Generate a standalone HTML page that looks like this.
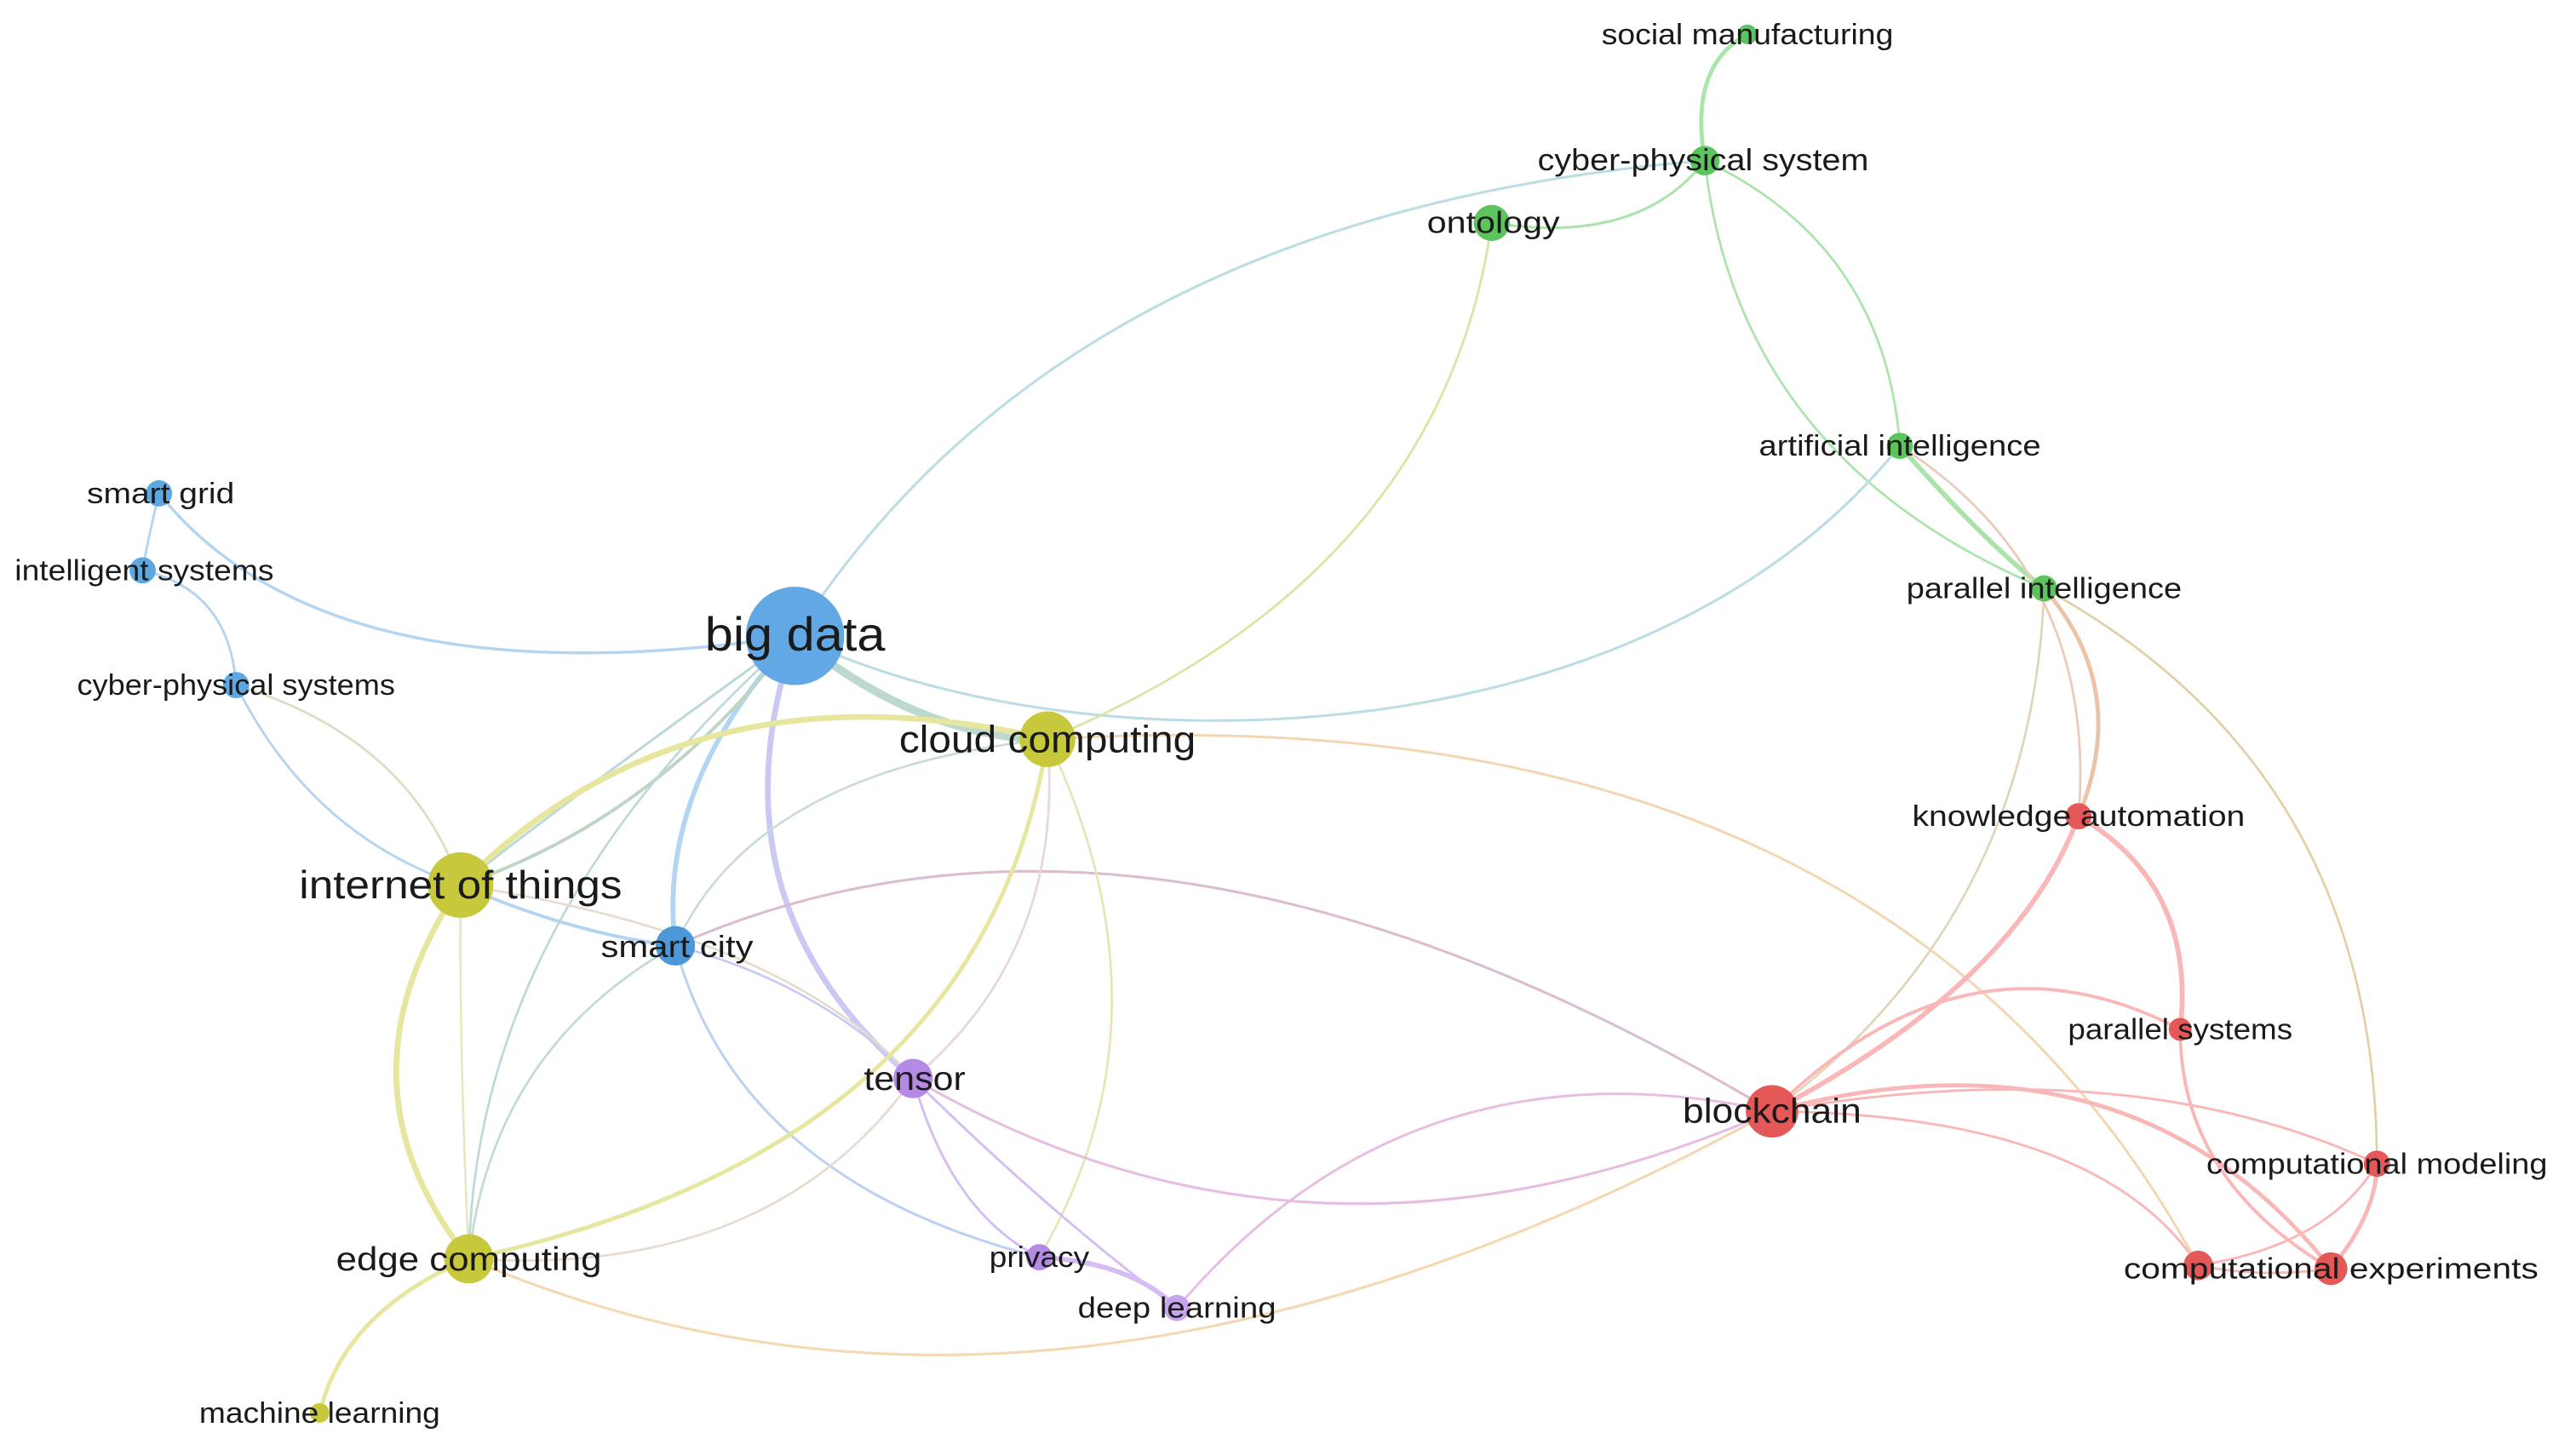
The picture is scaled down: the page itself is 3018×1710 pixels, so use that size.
<!DOCTYPE html>
<html><head><meta charset="utf-8"><style>
html,body{margin:0;padding:0;background:#fff;}
svg{display:block;}
text{font-family:"Liberation Sans","DejaVu Sans",sans-serif;fill:#1a1a1a;}
</style></head><body>
<svg width="3018" height="1710" viewBox="0 0 1567.8 888.3" preserveAspectRatio="none" xmlns="http://www.w3.org/2000/svg">
<g fill="none" stroke-linecap="round" opacity="0.75">
<path d="M1040,98 Q1030,40 1066,21" stroke="#8fdc8f" stroke-width="2.5"/>
<path d="M1040,98 Q1000,150 910,136" stroke="#8fdc8f" stroke-width="1.6"/>
<path d="M1040,98 Q1150,150 1159,272" stroke="#8fdc8f" stroke-width="1.4"/>
<path d="M1040,98 Q1060,280 1247,359" stroke="#8fdc8f" stroke-width="1.4"/>
<path d="M1159,272 Q1210,330 1247,359" stroke="#8fdc8f" stroke-width="3"/>
<path d="M485,388 Q650,130 1040,98" stroke="#a6d2da" stroke-width="1.6"/>
<path d="M485,388 C650,470 1000,470 1159,272" stroke="#a6d2da" stroke-width="1.6"/>
<path d="M910,136 Q880,350 639,451" stroke="#c9e08a" stroke-width="1.5"/>
<path d="M1247,359 Q1450,470 1450,710" stroke="#d8c18a" stroke-width="1.4"/>
<path d="M1247,359 Q1240,560 1081,678" stroke="#d8c8a0" stroke-width="1.4"/>
<path d="M1247,359 Q1300,420 1268,498" stroke="#e8b08a" stroke-width="2.5"/>
<path d="M1159,272 Q1280,350 1268,498" stroke="#e8b8a0" stroke-width="1.4"/>
<path d="M97,301 Q90,330 87,348" stroke="#9cc8ee" stroke-width="1.5"/>
<path d="M97,301 Q200,430 485,388" stroke="#9cc8ee" stroke-width="1.8"/>
<path d="M87,348 Q140,360 144,418" stroke="#9cc8ee" stroke-width="1.5"/>
<path d="M144,418 Q190,510 281,540" stroke="#9cc8ee" stroke-width="1.5"/>
<path d="M144,418 Q250,450 281,540" stroke="#c8d8b0" stroke-width="1.4"/>
<path d="M281,540 Q350,570 412,577" stroke="#9cc8ee" stroke-width="2"/>
<path d="M485,388 Q400,480 412,577" stroke="#9cc8ee" stroke-width="3"/>
<path d="M485,388 Q330,500 281,540" stroke="#a8ccd0" stroke-width="1.6"/>
<path d="M485,388 Q400,500 281,540" stroke="#a8c8b0" stroke-width="2"/>
<path d="M485,388 Q290,560 286,768" stroke="#a8ccd0" stroke-width="1.4"/>
<path d="M485,388 Q430,550 557,658" stroke="#b8b8f0" stroke-width="3.5"/>
<path d="M485,388 Q560,450 639,451" stroke="#a8ccc0" stroke-width="5"/>
<path d="M412,577 Q450,720 634,767" stroke="#a8c4f0" stroke-width="1.6"/>
<path d="M412,577 Q500,600 557,658" stroke="#b8b8f0" stroke-width="1.4"/>
<path d="M412,577 Q700,450 1081,678" stroke="#d0a8c0" stroke-width="1.6"/>
<path d="M412,577 Q460,470 639,451" stroke="#b8d0d0" stroke-width="1.4"/>
<path d="M412,577 Q300,640 286,768" stroke="#b0d0c0" stroke-width="1.4"/>
<path d="M281,540 Q420,400 639,451" stroke="#dede80" stroke-width="3.5"/>
<path d="M281,540 Q200,660 286,768" stroke="#dede80" stroke-width="3.5"/>
<path d="M281,540 Q280,640 286,768" stroke="#e0e0b0" stroke-width="1.4"/>
<path d="M281,540 Q480,570 557,658" stroke="#e0d0c0" stroke-width="1.4"/>
<path d="M639,451 Q600,700 286,768" stroke="#dede80" stroke-width="2.5"/>
<path d="M639,451 Q650,580 557,658" stroke="#e0c8d8" stroke-width="1.4"/>
<path d="M639,451 Q720,620 634,767" stroke="#e0dca0" stroke-width="1.4"/>
<path d="M639,451 Q1150,420 1341,772" stroke="#f0c898" stroke-width="1.5"/>
<path d="M286,768 Q210,800 195,862" stroke="#dede80" stroke-width="2.5"/>
<path d="M286,768 Q470,780 557,658" stroke="#e0d0c0" stroke-width="1.4"/>
<path d="M286,768 Q640,920 1081,678" stroke="#f0cc98" stroke-width="1.6"/>
<path d="M557,658 Q580,740 634,767" stroke="#c8a8f0" stroke-width="1.5"/>
<path d="M557,658 Q640,740 718,798" stroke="#c8a8f0" stroke-width="1.5"/>
<path d="M557,658 Q800,800 1081,678" stroke="#e0a8d8" stroke-width="1.6"/>
<path d="M634,767 Q690,770 718,798" stroke="#c8a8f0" stroke-width="3"/>
<path d="M718,798 Q860,630 1081,678" stroke="#e0a8d8" stroke-width="1.5"/>
<path d="M1081,678 Q1230,600 1268,498" stroke="#f8a0a0" stroke-width="3"/>
<path d="M1081,678 Q1200,560 1330,628" stroke="#f8a0a0" stroke-width="2"/>
<path d="M1081,678 Q1300,620 1422,774" stroke="#f8a0a0" stroke-width="2.5"/>
<path d="M1081,678 Q1300,640 1450,710" stroke="#f8a0a0" stroke-width="1.5"/>
<path d="M1081,678 Q1280,680 1341,772" stroke="#f8a0a0" stroke-width="1.5"/>
<path d="M1268,498 Q1340,540 1330,628" stroke="#f8a0a0" stroke-width="3"/>
<path d="M1330,628 Q1330,720 1422,774" stroke="#f8a0a0" stroke-width="2"/>
<path d="M1341,772 Q1420,760 1450,710" stroke="#f8a0a0" stroke-width="1.5"/>
<path d="M1422,774 Q1450,740 1450,710" stroke="#f8a0a0" stroke-width="2.5"/>
<path d="M1341,772 Q1380,780 1422,774" stroke="#f8a0a0" stroke-width="1.5"/>
</g>
<g>
<circle cx="1066" cy="21" r="6" fill="#5cc45c"/>
<circle cx="1040" cy="98" r="9" fill="#5cc45c"/>
<circle cx="910" cy="136" r="11" fill="#5cc45c"/>
<circle cx="1159" cy="272" r="8" fill="#5cc45c"/>
<circle cx="1247" cy="359" r="8" fill="#5cc45c"/>
<circle cx="97" cy="301" r="8" fill="#5ea8e0"/>
<circle cx="87" cy="348" r="8" fill="#5ea8e0"/>
<circle cx="144" cy="418" r="8" fill="#5ea8e0"/>
<circle cx="485" cy="388" r="30" fill="#62a8e4"/>
<circle cx="639" cy="451" r="17" fill="#c8c83c"/>
<circle cx="281" cy="540" r="20" fill="#c8c83c"/>
<circle cx="412" cy="577" r="12" fill="#4c98d8"/>
<circle cx="557" cy="658" r="12" fill="#b48ae4"/>
<circle cx="286" cy="768" r="15" fill="#c8c83c"/>
<circle cx="195" cy="862" r="6" fill="#c8c83c"/>
<circle cx="634" cy="767" r="8" fill="#b48ae4"/>
<circle cx="718" cy="798" r="8" fill="#c8a4ec"/>
<circle cx="1081" cy="678" r="16" fill="#e45858"/>
<circle cx="1268" cy="498" r="8" fill="#e45858"/>
<circle cx="1330" cy="628" r="7" fill="#e45858"/>
<circle cx="1450" cy="710" r="8" fill="#e45858"/>
<circle cx="1422" cy="774" r="10" fill="#e45858"/>
<circle cx="1341" cy="772" r="9" fill="#e45858"/>
</g>
<g text-anchor="middle">
<text x="1066" y="27" font-size="18" textLength="178" lengthAdjust="spacingAndGlyphs">social manufacturing</text>
<text x="1039" y="104" font-size="19" textLength="202" lengthAdjust="spacingAndGlyphs">cyber-physical system</text>
<text x="911" y="142" font-size="19" textLength="81" lengthAdjust="spacingAndGlyphs">ontology</text>
<text x="1159" y="278" font-size="18" textLength="172" lengthAdjust="spacingAndGlyphs">artificial intelligence</text>
<text x="1247" y="365" font-size="18" textLength="168" lengthAdjust="spacingAndGlyphs">parallel intelligence</text>
<text x="98" y="307" font-size="18" textLength="90" lengthAdjust="spacingAndGlyphs">smart grid</text>
<text x="88" y="354" font-size="18" textLength="158" lengthAdjust="spacingAndGlyphs">intelligent systems</text>
<text x="144" y="424" font-size="18" textLength="194" lengthAdjust="spacingAndGlyphs">cyber-physical systems</text>
<text x="485" y="397" font-size="29" textLength="110" lengthAdjust="spacingAndGlyphs">big data</text>
<text x="639" y="459" font-size="23" textLength="181" lengthAdjust="spacingAndGlyphs">cloud computing</text>
<text x="281" y="548" font-size="24" textLength="197" lengthAdjust="spacingAndGlyphs">internet of things</text>
<text x="413" y="584" font-size="19" textLength="93" lengthAdjust="spacingAndGlyphs">smart city</text>
<text x="558" y="665" font-size="20" textLength="62" lengthAdjust="spacingAndGlyphs">tensor</text>
<text x="286" y="775" font-size="20" textLength="162" lengthAdjust="spacingAndGlyphs">edge computing</text>
<text x="195" y="868" font-size="18" textLength="147" lengthAdjust="spacingAndGlyphs">machine learning</text>
<text x="634" y="773" font-size="18" textLength="61" lengthAdjust="spacingAndGlyphs">privacy</text>
<text x="718" y="804" font-size="18" textLength="121" lengthAdjust="spacingAndGlyphs">deep learning</text>
<text x="1081" y="685" font-size="21" textLength="109" lengthAdjust="spacingAndGlyphs">blockchain</text>
<text x="1268" y="504" font-size="18" textLength="203" lengthAdjust="spacingAndGlyphs">knowledge automation</text>
<text x="1330" y="634" font-size="18" textLength="137" lengthAdjust="spacingAndGlyphs">parallel systems</text>
<text x="1450" y="716" font-size="18" textLength="208" lengthAdjust="spacingAndGlyphs">computational modeling</text>
<text x="1422" y="780" font-size="18" textLength="253" lengthAdjust="spacingAndGlyphs">computational experiments</text>
</g>
</svg>
</body></html>
